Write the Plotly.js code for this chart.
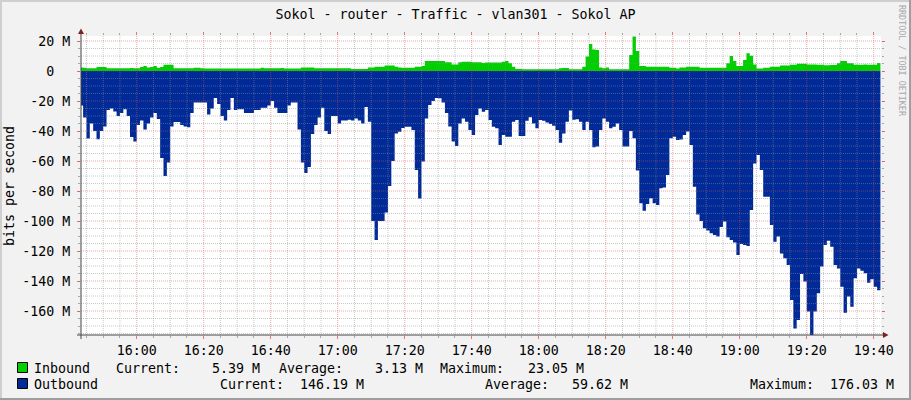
<!DOCTYPE html>
<html><head><meta charset="utf-8">
<script src="https://cdn.plot.ly/plotly-3.0.1.min.js"></script>
<style>html,body{margin:0;padding:0;background:#F2F2F2;overflow:hidden}#chart{width:911px;height:400px}</style>
</head><body><div id="chart"></div>
<script>
// ---------- data ----------
const chartTitle = "Sokol - router - Traffic - vlan301 - Sokol AP";
const startDay = "2024-01-01";
const startMinute = 15 * 60 + 43;   // first sample 15:43, one sample per minute
const xRange = ["2024-01-01 15:43:22.4", "2024-01-01 19:42:10"];
const yRange = [-176, 23.333];

// Inbound traffic, Mbit/s
const inbound = [
 2.4,2.2,1.8,1.8,1.8,2.7,2.7,2.7,1.8,1.8,
 1.8,1.8,1.8,1.8,1.8,2.0,1.8,1.8,2.6,3.3,
 2.4,2.6,3.3,2.2,2.6,4.2,4.2,4.2,1.8,1.8,
 1.8,1.8,1.8,1.8,2.2,2.2,1.8,1.6,1.6,1.6,
 1.6,1.6,1.6,1.6,1.6,1.6,1.6,1.6,1.6,1.6,
 1.6,1.6,1.6,1.6,2.2,1.8,1.8,1.8,1.8,1.8,
 2.0,1.6,1.6,1.6,1.6,1.6,2.4,2.4,2.4,2.4,
 1.8,1.8,1.8,1.8,1.8,1.8,1.8,1.8,1.8,1.8,
 1.8,1.3,1.3,1.3,1.3,1.3,2.4,2.4,2.9,2.9,
 2.9,3.6,3.6,3.6,2.9,2.4,2.2,2.2,2.2,2.2,
 2.9,2.9,3.3,6.7,6.7,6.7,6.7,6.7,6.7,5.8,
 5.8,4.4,4.4,5.8,6.2,6.2,6.2,5.8,5.8,5.8,
 5.3,5.6,5.6,5.6,5.6,5.6,6.2,6.7,5.1,2.9,
 1.3,1.3,1.1,1.1,1.1,1.1,1.1,1.1,1.1,1.1,
 1.1,1.1,1.1,1.8,2.0,2.0,1.1,1.1,1.1,1.1,
 2.9,9.6,18.0,14.4,14.0,2.4,1.8,2.4,1.1,1.1,
 1.1,1.1,1.1,1.1,10.7,23.05,13.3,3.3,3.3,2.9,
 2.9,2.9,2.9,2.9,2.9,2.9,2.2,2.2,1.6,2.4,
 2.4,2.9,2.9,2.9,2.9,2.2,2.2,2.2,2.2,2.2,
 2.2,2.2,2.2,5.1,10.0,6.7,3.3,3.3,7.3,11.8,
 10.2,4.4,1.6,1.6,2.2,2.2,2.9,2.9,2.9,3.6,
 3.6,3.6,4.2,4.2,4.9,4.9,4.9,4.4,4.4,4.4,
 4.2,4.2,3.8,3.8,4.0,4.0,5.1,6.7,6.7,5.1,
 5.1,4.2,4.2,4.2,4.4,4.2,4.2,4.2,5.39
];

// Outbound traffic, Mbit/s (drawn below zero)
const outbound = [
 23,31,45,35,40,45.5,40,37,26,25,
 27,30,28,25.5,30,44,47,36,33,39,
 35,31,28,32,58,70,61,37,34,34,
 36,37,37.5,28,21,21,21,21,29,25,
 18,22,30,33,26,18,26,25.5,25.5,28,
 28,28,26,26,24.5,24.5,23,20,24.5,28,
 28,28,23,21,21,39,61,68,64,42,
 36,31,24.5,40,42,30,30,35,33,33,
 32.5,33,31.6,33,35,24,33.8,100,112.7,100,
 100,94.4,76.7,60,41.6,40.5,38,37.1,37.1,39.3,
 66,85,60.4,31.6,22.7,20,18,18.2,21,28,
 37,47,50,35,31.6,33.8,39.3,42.7,29.3,25,
 27.1,26,32.7,37.1,38.2,49.3,42.7,43.8,43.8,33.8,
 32.7,43.3,43.3,33.1,30.9,35,38.2,32.7,33.1,34.4,
 35.3,36.5,39.3,47.8,41.6,33.8,26.4,32.5,32.2,33.8,
 39.3,33.8,39.3,50.9,50.4,39.3,31.6,33.8,38.2,37.1,
 35,39.3,50.4,50.4,40,44.9,66.4,88.2,93.1,88.7,
 84.9,88.2,89.3,78.2,77.6,69.3,44.9,43.8,46,45.6,
 42.7,40.4,49.3,77.1,95.6,100,104.9,106.4,108.2,109.3,
 110.4,104,100.4,110.9,112.7,114.4,122.7,115.3,116,116.7,
 92.7,61.6,56,66,83.8,83.8,102.7,113.8,110.4,121.6,
 124.9,129.3,152.7,171.6,166,135.3,140.4,160.4,176.03,160.4,
 148.2,130.4,116,113.1,117.1,129.3,131.6,143.8,161.1,150.4,
 157.1,138.2,131.6,133.1,134.9,141.1,138.9,143.8,146.19
];

const yTickVals = [-160,-140,-120,-100,-80,-60,-40,-20,0,20];
const yTickText = ["-160 M","-140 M","-120 M","-100 M","-80 M","-60 M","-40 M","-20 M","0\u00a0\u00a0","20 M"];
const seriesNames = ["Inbound", "Outbound"];
const statLabels = ["Current:", "Average:", "Maximum:"];
const inboundStats = ["5.39 M", "3.13 M", "23.05 M"];
const outboundStats = ["146.19 M", "59.62 M", "176.03 M"];
const yAxisTitle = "bits per second";
const watermark = "RRDTOOL / TOBI OETIKER";

// ---------- styling ----------
const FONT = "DejaVu Sans Mono";
const FS = 13.3;
const GREEN = "#00CF00", BLUE = "#002A97";
const GRID = "rgba(143,143,143,0.48)", MGRID = "rgba(222,79,79,0.5)";
const TICKG = "rgba(143,143,143,0.75)", TICKR = "rgba(222,79,79,0.75)";
const L = 81, R = 30, T = 36, B = 65, W = 911, H = 400;
const PW = W - L - R, PH = H - T - B;
const X = px => (px - L) / PW;
const Y = py => (H - B - py) / PH;

function pad(n){ return (n < 10 ? "0" : "") + n; }
function timeAt(min){
  const h = Math.floor(min / 60), m = min % 60;
  return startDay + " " + pad(h) + ":" + pad(m) + ":00";
}
const n = outbound.length;
const times = [];
for (let i = 0; i <= n; i++) times.push(timeAt(startMinute + i));
const outY = outbound.concat([outbound[n-1]]).map(v => -v);
const inY = inbound.concat([inbound[n-1]]);

const traces = [
  {x: times, y: outY, type: "scatter", mode: "lines", line: {shape: "hv", width: 0, color: BLUE},
   fill: "tozeroy", fillcolor: BLUE, hoverinfo: "skip", showlegend: false},
  {x: times, y: inY, type: "scatter", mode: "lines", line: {shape: "hv", width: 0, color: GREEN},
   fill: "tozeroy", fillcolor: GREEN, hoverinfo: "skip", showlegend: false}
];

const shapes = [];
// grid drawn above the areas (like rrdtool)
for (let m = 15*60+45; m <= 19*60+40; m += 5) {
  const major = m % 20 === 0;
  shapes.push({type: "line", layer: "above", xref: "x", yref: "paper", x0: timeAt(m), x1: timeAt(m), y0: 0, y1: 1,
    line: {color: major ? MGRID : GRID, width: 1, dash: "1px,1px"}});
}
for (let v = -175; v <= 20; v += 5) {
  const major = v % 20 === 0;
  shapes.push({type: "line", layer: "above", xref: "paper", yref: "y", x0: 0, x1: 1, y0: v, y1: v,
    line: {color: major ? MGRID : GRID, width: 1, dash: "1px,1px"}});
}
// axis lines
shapes.push({type: "line", layer: "above", xref: "paper", yref: "paper", x0: X(77), x1: X(885), y0: Y(335), y1: Y(335), line: {color: "#444", width: 1}});
shapes.push({type: "line", layer: "above", xref: "paper", yref: "paper", x0: X(81), x1: X(81), y0: Y(339), y1: Y(32), line: {color: "#444", width: 1}});
// arrows
shapes.push({type: "path", layer: "above", xref: "paper", yref: "paper",
  path: `M ${X(883)} ${Y(332)} L ${X(883)} ${Y(338)} L ${X(888.5)} ${Y(335)} Z`, fillcolor: "#801F1F", line: {width: 0}});
shapes.push({type: "path", layer: "above", xref: "paper", yref: "paper",
  path: `M ${X(78)} ${Y(34)} L ${X(84)} ${Y(34)} L ${X(81)} ${Y(28.5)} Z`, fillcolor: "#801F1F", line: {width: 0}});
// legend boxes
shapes.push({type: "rect", xref: "paper", yref: "paper", x0: X(17.5), x1: X(27.5), y0: Y(362.5), y1: Y(372.5), fillcolor: GREEN, line: {color: "#000", width: 1}});
shapes.push({type: "rect", xref: "paper", yref: "paper", x0: X(17.5), x1: X(27.5), y0: Y(378.5), y1: Y(388.5), fillcolor: BLUE, line: {color: "#000", width: 1}});
// frame shading
shapes.push({type: "line", xref: "paper", yref: "paper", x0: X(0), x1: X(911), y0: Y(1), y1: Y(1), line: {color: "#CFCFCF", width: 2}});
shapes.push({type: "line", xref: "paper", yref: "paper", x0: X(1), x1: X(1), y0: Y(0), y1: Y(400), line: {color: "#CFCFCF", width: 2}});
shapes.push({type: "line", xref: "paper", yref: "paper", x0: X(0), x1: X(911), y0: Y(399), y1: Y(399), line: {color: "#9E9E9E", width: 2}});
shapes.push({type: "line", xref: "paper", yref: "paper", x0: X(910), x1: X(910), y0: Y(0), y1: Y(400), line: {color: "#9E9E9E", width: 2}});

function txt(text, px, py, anchor, extra){
  return Object.assign({text: text, xref: "paper", yref: "paper", x: X(px), y: Y(py), xanchor: anchor, yanchor: "middle",
    showarrow: false, borderpad: 0, borderwidth: 0, font: {family: FONT, size: FS, color: "#000"}}, extra || {});
}
const annotations = [
  txt(yAxisTitle, 9, 186, "center", {textangle: -90}),
  txt(watermark, 902, 61, "center", {textangle: 90, font: {family: FONT, size: 8.4, color: "#A8A8A8"}}),
  txt(seriesNames[0], 33.5, 368, "left"),
  txt(statLabels[0], 116, 368, "left"),
  txt(inboundStats[0], 260, 368, "right"),
  txt(statLabels[1], 279, 368, "left"),
  txt(inboundStats[1], 423, 368, "right"),
  txt(statLabels[2], 440, 368, "left"),
  txt(inboundStats[2], 584, 368, "right"),
  txt(seriesNames[1], 33.5, 384, "left"),
  txt(statLabels[0], 220, 384, "left"),
  txt(outboundStats[0], 364, 384, "right"),
  txt(statLabels[1], 485, 384, "left"),
  txt(outboundStats[1], 628, 384, "right"),
  txt(statLabels[2], 750, 384, "left"),
  txt(outboundStats[2], 894, 384, "right")
];

const layout = {
  width: W, height: H,
  margin: {l: L, r: R, t: T, b: B, pad: 0},
  paper_bgcolor: "#F2F2F2", plot_bgcolor: "#FFFFFF",
  showlegend: false,
  title: {text: chartTitle, x: 0.5, xref: "container", xanchor: "center", y: 1 - 14/400, yref: "container", yanchor: "middle",
    font: {family: FONT, size: FS, color: "#000"}},
  xaxis: {type: "date", range: xRange, tickmode: "linear", tick0: "2024-01-01 16:00", dtick: 20*60000,
    tickformat: "%H:%M", ticks: "outside", ticklen: 3, tickwidth: 1, tickcolor: TICKR,
    showgrid: false, zeroline: false, showline: false, mirror: "ticks", fixedrange: true,
    tickfont: {family: FONT, size: FS, color: "#000"},
    minor: {tick0: "2024-01-01 16:00", dtick: 5*60000, ticks: "outside", ticklen: 2, tickcolor: TICKG, showgrid: false}},
  yaxis: {range: yRange, tickmode: "array", tickvals: yTickVals, ticktext: yTickText,
    ticks: "outside", ticklen: 3, tickwidth: 1, tickcolor: TICKR, ticklabelstandoff: 4,
    showgrid: false, zeroline: false, showline: false, mirror: "ticks", fixedrange: true,
    tickfont: {family: FONT, size: FS, color: "#000"},
    minor: {tickmode: "linear", tick0: 0, dtick: 5, ticks: "outside", ticklen: 2, tickcolor: TICKG, showgrid: false}},
  shapes: shapes,
  annotations: annotations
};

Plotly.newPlot("chart", traces, layout, {staticPlot: true, displayModeBar: false});
</script>
</body></html>
